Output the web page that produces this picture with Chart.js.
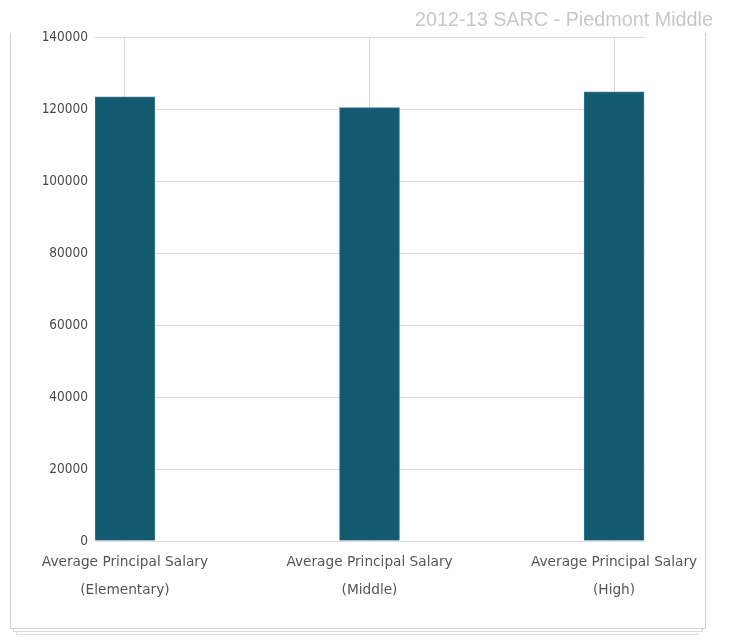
<!DOCTYPE html>
<html>
<head>
<meta charset="utf-8">
<title>2012-13 SARC - Piedmont Middle</title>
<script src="https://cdn.jsdelivr.net/npm/chart.js@4.4.0/dist/chart.umd.min.js"></script>
<style>
  html, body { margin: 0; padding: 0; background: #fff; }
  #wrap { position: relative; width: 739px; height: 641px; overflow: hidden; }
  .frame { position: absolute; border: 1px solid #cfcfcf; border-top: none; background: #fff; }
  #f3 { left: 16px; top: 33px; width: 680px; height: 601px; border-color: #e2e2e2; }
  #f2 { left: 13px; top: 33px; width: 688px; height: 598px; border-color: #d8d8d8; }
  #f1 { left: 10px; top: 33px; width: 694px; height: 595px; }
  canvas { position: absolute; left: 0; top: 0; }
</style>
</head>
<body>
<div id="wrap">
  <div class="frame" id="f3"></div>
  <div class="frame" id="f2"></div>
  <div class="frame" id="f1"></div>
  <canvas id="salaryChart" width="739" height="641"></canvas>
</div>
<script>
const chartTitle = '2012-13 SARC - Piedmont Middle';
const categories = [
  ['Average Principal Salary', '(Elementary)'],
  ['Average Principal Salary', '(Middle)'],
  ['Average Principal Salary', '(High)']
];
const salaries = [123400, 120400, 124800];
const yTicks = [0, 20000, 40000, 60000, 80000, 100000, 120000, 140000];

// title sits top right, over the frame
const titlePlugin = {
  id: 'cornerTitle',
  afterDraw(chart) {
    const ctx = chart.ctx;
    ctx.save();
    ctx.font = '19.8px "Liberation Sans", Arial, sans-serif';
    ctx.fillStyle = '#c8c8c8';
    ctx.textAlign = 'right';
    ctx.textBaseline = 'middle';
    ctx.fillText(chartTitle, 713, 21);
    ctx.restore();
  }
};

const ctx = document.getElementById('salaryChart').getContext('2d');
new Chart(ctx, {
  type: 'bar',
  data: {
    datasets: [{
      data: salaries.map((v, i) => ({ x: i, y: v })),
      backgroundColor: '#135a71',
      borderColor: '#3d7a8d',
      borderWidth: 1,
      barThickness: 60
    }]
  },
  options: {
    responsive: false,
    animation: false,
    layout: { padding: { top: 37, right: 94, bottom: 0, left: 0 } },
    plugins: { legend: { display: false }, tooltip: { enabled: false } },
    scales: {
      x: {
        type: 'linear',
        offset: false,
        min: -0.1224,
        max: 2.1265,
        afterBuildTicks: (scale) => { scale.ticks = categories.map((_, i) => ({ value: i })); },
        afterFit: (scale) => { scale.height = 100; },
        grid: { color: '#d9d9d9', drawTicks: false, offset: false },
        border: { display: false },
        ticks: {
          padding: 7,
          color: '#555',
          font: { family: '"DejaVu Sans", Verdana, sans-serif', size: 13.7, lineHeight: 28 / 13.7 },
          callback: (value) => categories[value]
        }
      },
      y: {
        min: 0,
        max: 140000,
        afterBuildTicks: (scale) => { scale.ticks = yTicks.map(v => ({ value: v })); },
        afterFit: (scale) => { scale.width = 95; },
        grid: { color: '#dcdcdc', drawTicks: false },
        border: { display: false },
        ticks: {
          padding: 7,
          color: '#4a4a4a',
          font: { family: '"DejaVu Sans Condensed", "DejaVu Sans", sans-serif', size: 13.5 },
          callback: (value) => String(value)
        }
      }
    }
  },
  plugins: [titlePlugin]
});
</script>
</body>
</html>
